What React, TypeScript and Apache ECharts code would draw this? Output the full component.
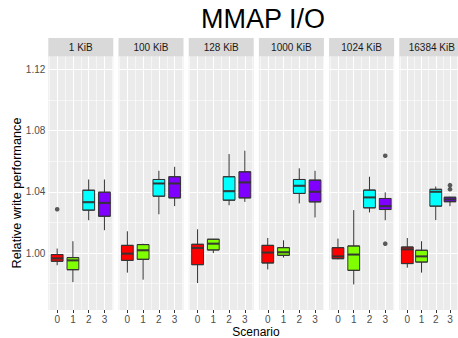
import React, { useEffect, useRef } from 'react';
import * as echarts from 'echarts';

// ---------- data ----------
const facets = ['1 KiB', '100 KiB', '128 KiB', '1000 KiB', '1024 KiB', '16384 KiB'];
const scenarios = [0, 1, 2, 3];
const scenarioColors = ['#FF0000', '#80FF00', '#00FFFF', '#8000FF'];
const yTicks = [1.0, 1.04, 1.08, 1.12];
const yMinorLines = [0.98, 1.02, 1.06, 1.1];
const xMinorLines = [-0.5, 0.5, 1.5, 2.5, 3.5];

// [min, q1, median, q3, max] per scenario 0..3
const stats1KiB = [
  [0.992, 0.9946, 0.9965, 0.999, 1.0029],
  [0.981, 0.9891, 0.9952, 0.997, 1.0077],
  [1.0214, 1.028, 1.0332, 1.041, 1.048],
  [1.0149, 1.024, 1.0327, 1.0397, 1.048],
];
const stats100KiB = [
  [0.9872, 0.9952, 0.9996, 1.005, 1.0142],
  [0.9826, 0.9959, 1.0018, 1.0055, 1.0061],
  [1.0253, 1.0371, 1.0454, 1.048, 1.0537],
  [1.0306, 1.036, 1.0454, 1.0498, 1.0563],
];
const stats128KiB = [
  [0.9804, 0.9924, 1.0033, 1.0057, 1.0155],
  [1.0, 1.002, 1.0061, 1.009, 1.0092],
  [1.0312, 1.0345, 1.0404, 1.0498, 1.0646],
  [1.0334, 1.036, 1.0461, 1.053, 1.0668],
];
const stats1000KiB = [
  [0.9893, 0.9935, 1.0003, 1.005, 1.0098],
  [0.997, 0.9985, 1.0005, 1.0035, 1.0083],
  [1.0324, 1.0389, 1.0439, 1.048, 1.0553],
  [1.0232, 1.0334, 1.04, 1.0476, 1.0537],
];
const stats1024KiB = [
  [0.9959, 0.9963, 0.9978, 1.0035, 1.0094],
  [0.9795, 0.9887, 0.999, 1.0046, 1.028],
  [1.0265, 1.0295, 1.0363, 1.0411, 1.0498],
  [1.0214, 1.0284, 1.0306, 1.0356, 1.0396],
];
const stats16384KiB = [
  [0.9904, 0.9931, 1.0024, 1.0039, 1.0098],
  [0.9872, 0.9941, 0.9978, 1.0018, 1.0077],
  [1.0215, 1.0306, 1.04, 1.0416, 1.0434],
  [1.0306, 1.0335, 1.035, 1.0364, 1.0368],
];
const facetStats = [stats1KiB, stats100KiB, stats128KiB, stats1000KiB, stats1024KiB, stats16384KiB];

// outliers: [scenario, value]
const outliers1KiB = [[0, 1.0286]];
const outliers100KiB: number[][] = [];
const outliers128KiB: number[][] = [];
const outliers1000KiB: number[][] = [];
const outliers1024KiB = [[3, 1.0635], [3, 1.0061]];
const outliers16384KiB = [[3, 1.0443], [3, 1.0417]];
const facetOutliers = [outliers1KiB, outliers100KiB, outliers128KiB, outliers1000KiB, outliers1024KiB, outliers16384KiB];

// ---------- layout ----------
const FONT = 'Liberation Sans, Arial, sans-serif';
const PANEL_LEFT0 = 48.3;
const PANEL_STEP = 70.2;
const PANEL_W = 65;
const PANEL_TOP = 56.5;
const PANEL_H = 253.5;
const STRIP_H = 18.5;
const X_MIN = -0.5625;
const X_MAX = 3.5625;
const Y_MIN = 0.9628;
const Y_MAX = 1.1283;
const BOX_W = 11.8;

function buildOption() {
  const grid: any[] = [];
  const xAxis: any[] = [];
  const yAxis: any[] = [];
  const series: any[] = [];
  const graphic: any[] = [];

  facets.forEach((name, i) => {
    const left = PANEL_LEFT0 + PANEL_STEP * i;
    grid.push({
      left, top: PANEL_TOP, width: PANEL_W, height: PANEL_H,
      show: true, backgroundColor: '#EBEBEB', borderWidth: 0, containLabel: false,
    });
    xAxis.push({
      type: 'value', gridIndex: i, min: X_MIN, max: X_MAX,
      axisLine: { show: false },
      splitLine: { show: false },
      axisTick: { show: true, customValues: scenarios, length: 3, lineStyle: { color: '#333333', width: 1 } },
      axisLabel: { customValues: scenarios, margin: 4, color: '#4D4D4D', fontSize: 10, fontFamily: FONT },
    });
    xAxis.push({ type: 'value', gridIndex: i, min: X_MIN, max: X_MAX, show: false });
    yAxis.push({
      type: 'value', gridIndex: i, min: Y_MIN, max: Y_MAX, show: i === 0,
      axisLine: { show: false },
      splitLine: { show: false },
      axisTick: { show: true, customValues: yTicks, length: 2.5, lineStyle: { color: '#333333', width: 1 } },
      axisLabel: {
        customValues: yTicks, margin: 3, color: '#4D4D4D', fontSize: 10, fontFamily: FONT,
        formatter: (v: number) => v.toFixed(2),
      },
    });

    const stats = facetStats[i];
    const majorStyle = { color: '#FFFFFF', width: 1.1, type: 'solid' };
    const minorStyle = { color: '#FFFFFF', width: 0.55, type: 'solid' };
    const gridLines = [
      ...yMinorLines.map((v) => ({ yAxis: v, lineStyle: minorStyle })),
      ...xMinorLines.map((v) => ({ xAxis: v, lineStyle: minorStyle })),
      ...yTicks.map((v) => ({ yAxis: v, lineStyle: majorStyle })),
      ...scenarios.map((v) => ({ xAxis: v, lineStyle: majorStyle })),
    ];

    // whiskers (zero-width boxplot)
    series.push({
      type: 'boxplot', xAxisIndex: 2 * i + 1, yAxisIndex: i,
      boxWidth: [0, 0], silent: true,
      itemStyle: { color: 'none', borderColor: '#333333', borderWidth: 1 },
      data: stats.map((s, k) => ({ value: [scenarios[k], ...s] })),
      z: 2,
    });
    // boxes (Q1..Q3)
    series.push({
      type: 'boxplot', xAxisIndex: 2 * i, yAxisIndex: i,
      boxWidth: [BOX_W, BOX_W], silent: true,
      itemStyle: { borderColor: '#333333', borderWidth: 1 },
      data: stats.map((s, k) => ({
        value: [scenarios[k], s[1], s[1], s[2], s[3], s[3]],
        itemStyle: { color: scenarioColors[k], borderColor: '#333333', borderWidth: 1 },
      })),
      markLine: {
        silent: true, symbol: ['none', 'none'], z: 1, animation: false,
        label: { show: false }, emphasis: { disabled: true },
        data: gridLines,
      },
      z: 3,
    });
    // thick medians
    series.push({
      type: 'scatter', xAxisIndex: 2 * i, yAxisIndex: i, silent: true,
      symbol: 'rect', symbolSize: [BOX_W, 2.2],
      itemStyle: { color: '#333333' },
      data: stats.map((s, k) => [scenarios[k], s[2]]),
      z: 4,
    });
    // outliers
    series.push({
      type: 'scatter', xAxisIndex: 2 * i, yAxisIndex: i, silent: true,
      symbol: 'circle', symbolSize: 4.6,
      itemStyle: { color: '#333333' },
      data: facetOutliers[i],
      z: 5,
    });

    // strip
    graphic.push({
      type: 'rect', silent: true,
      shape: { x: left, y: PANEL_TOP - STRIP_H, width: PANEL_W, height: STRIP_H },
      style: { fill: '#D9D9D9' },
    });
    graphic.push({
      type: 'text', silent: true,
      x: left + PANEL_W / 2, y: PANEL_TOP - STRIP_H / 2,
      style: {
        text: name, fill: '#1A1A1A', fontSize: 10, fontFamily: FONT,
        align: 'center', verticalAlign: 'middle',
      },
    });
  });

  graphic.push({
    type: 'text', silent: true, x: 263, y: 18.8,
    style: { text: 'MMAP I/O', fill: '#000000', fontSize: 27, fontFamily: FONT, align: 'center', verticalAlign: 'middle' },
  });
  graphic.push({
    type: 'text', silent: true, x: 256, y: 332,
    style: { text: 'Scenario', fill: '#000000', fontSize: 12, fontFamily: FONT, align: 'center', verticalAlign: 'middle' },
  });
  graphic.push({
    type: 'text', silent: true, x: 17, y: 193, rotation: Math.PI / 2,
    style: { text: 'Relative write performance', fill: '#000000', fontSize: 12.7, fontFamily: FONT, align: 'center', verticalAlign: 'middle' },
  });

  return {
    animation: false,
    backgroundColor: '#FFFFFF',
    grid, xAxis, yAxis, series, graphic,
  };
}

export default function App() {
  const ref = useRef<HTMLDivElement>(null);
  useEffect(() => {
    document.body.style.margin = '0';
    if (!ref.current) return;
    const chart = echarts.init(ref.current, null, { renderer: 'svg' });
    chart.setOption(buildOption() as any);
    return () => chart.dispose();
  }, []);
  return <div ref={ref} style={{ width: 458, height: 338 }} />;
}
